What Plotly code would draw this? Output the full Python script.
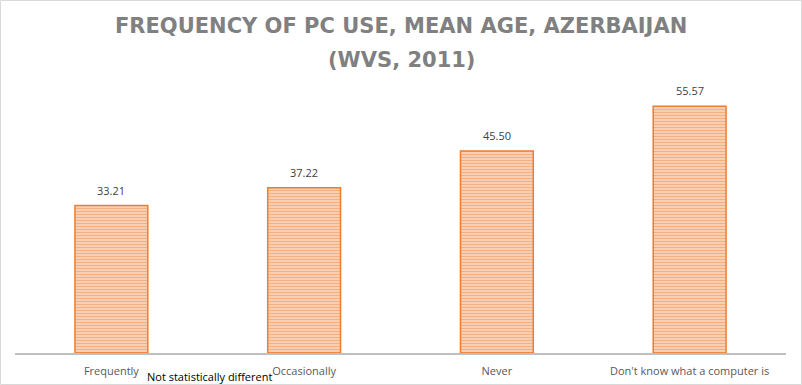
import plotly.graph_objects as go

categories = ["Frequently", "Occasionally", "Never", "Don't know what a computer is"]
values = [33.21, 37.22, 45.50, 55.57]
value_labels = ["33.21", "37.22", "45.50", "55.57"]
title_lines = ["FREQUENCY OF PC USE, MEAN AGE, AZERBAIJAN", "(WVS, 2011)"]
note_text = "Not statistically different"

W, H = 802, 385
L, R, T, B = 15, 16, 87, 32
pw = W - L - R
ph = H - T - B


def px_x(px):
    return (px - L) / pw


def px_y(py):
    return (H - B - py) / ph


fig = go.Figure()
fig.add_trace(go.Bar(
    x=categories, y=values,
    marker=dict(
        color="#ffffff",
        line=dict(color="#ED7D31", width=1.5),
        pattern=dict(shape="-", fgcolor="#ED7D31", bgcolor="#fbe3d3", size=3, solidity=0.6),
    ),
    hoverinfo="skip",
))

for c, v, t in zip(categories, values, value_labels):
    fig.add_annotation(x=c, y=v, text=t, showarrow=False, yanchor="bottom", yshift=6,
                       font=dict(family="Open Sans", size=11, color="#404040"))

fig.add_annotation(xref="paper", yref="paper", x=px_x(145), y=px_y(376),
                   xanchor="left", yanchor="middle", text=note_text,
                   showarrow=False, font=dict(family="Open Sans", size=11, color="#000000"))

for line, cy in zip(title_lines, [26, 60]):
    fig.add_annotation(xref="paper", yref="paper", x=px_x(401), y=px_y(cy),
                       xanchor="center", yanchor="middle", text=f"<b>{line}</b>",
                       showarrow=False,
                       font=dict(family="DejaVu Sans", size=21, color="#808080"))

# outer border
fig.add_shape(type="rect", xref="paper", yref="paper",
              x0=px_x(0.5), x1=px_x(W - 0.5),
              y0=px_y(H - 0.5), y1=px_y(0.5),
              line=dict(color="#d9d9d9", width=1), fillcolor="rgba(0,0,0,0)", layer="below")

fig.update_layout(
    width=W, height=H,
    margin=dict(l=L, r=R, t=T, b=B, autoexpand=False),
    paper_bgcolor="white", plot_bgcolor="white",
    bargap=0.622,
    showlegend=False,
    xaxis=dict(showline=True, linecolor="#bfbfbf", linewidth=2, ticks="",
               tickfont=dict(family="Open Sans", size=11, color="#595959"),
               ticklabelstandoff=7, automargin=False, fixedrange=True),
    yaxis=dict(range=[0, ph / 4.44], visible=False, showgrid=False, zeroline=False,
               automargin=False, fixedrange=True),
)

fig.write_html("out.html", config={"displayModeBar": False},
               post_script="document.body.style.margin='0';document.body.style.overflow='hidden';")
